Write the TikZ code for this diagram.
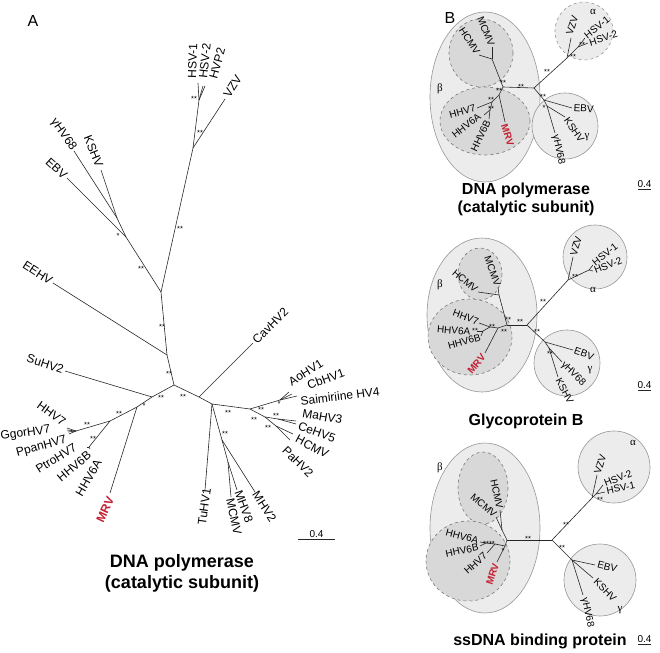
\documentclass[tikz,border=0pt]{standalone}
\usepackage{fontspec}
\setmainfont{Liberation Sans}
\newfontfamily\grk{Liberation Serif}
\usetikzlibrary{positioning,calc}
\definecolor{mrvred}{RGB}{196,32,50}
\definecolor{cladefill}{RGB}{236,236,236}
\definecolor{subfill}{RGB}{216,216,216}
\definecolor{cladeline}{RGB}{150,150,150}
\tikzset{
  br/.style={draw=black!85, line width=0.6pt},
  lab/.style={font=\fontsize{12}{12}\selectfont, inner sep=0.5pt},
  labB/.style={font=\fontsize{10}{10}\selectfont, inner sep=0.5pt},
  mrv/.style={text=mrvred, font=\fontsize{12}{12}\selectfont\bfseries, inner sep=0.5pt},
  mrvB/.style={text=mrvred, font=\fontsize{10}{10}\selectfont\bfseries, inner sep=0.5pt},
  sig/.style={font=\fontsize{7.5}{7.5}\selectfont, inner sep=0pt, yshift=-2pt},
  greek/.style={font=\grk\fontsize{11}{11}\selectfont, inner sep=0pt},
  clade/.style={fill=cladefill, draw=cladeline, line width=0.6pt},
  subclade/.style={fill=subfill, draw=cladeline!80!black, dashed, line width=0.6pt},
  ttl/.style={font=\fontsize{16}{18}\selectfont\bfseries, align=center},
  panel/.style={font=\fontsize{16}{16}\selectfont},
}
\begin{document}
\begin{tikzpicture}[x=1pt,y=-1pt]
\useasboundingbox (0,0) rectangle (660,652);

% ---------- panel A ----------
\node[panel] (pA) at (33,21) {A};
\coordinate (c0) at (174,385);
\coordinate (e1) at (167,355);
\coordinate (ag) at (161,292);
\coordinate (aN) at (193,148);
\coordinate (hsvN) at (199,100);
\coordinate (tHSV1) at (198,83);
\coordinate (tHSV2) at (203,86);
\coordinate (tHVP2) at (205,86);
\coordinate (tVZV) at (225,99);
\coordinate (gN2) at (126,237);
\coordinate (gN1) at (117,218);
\coordinate (tEBV) at (67,178);
\coordinate (tMHV68) at (74,151);
\coordinate (tKSHV) at (101,170);
\coordinate (tEEHV) at (53,283);
\coordinate (s1) at (152,397);
\coordinate (tSuHV2) at (65,371);
\coordinate (m1) at (137,407);
\coordinate (tMRV) at (110,493);
\coordinate (h1) at (110,421);
\coordinate (h6) at (89,447);
\coordinate (tHHV6B) at (87,447);
\coordinate (tHHV6A) at (90,449);
\coordinate (h7) at (76,431);
\coordinate (tHHV7) at (67,428);
\coordinate (tGgor) at (67,430);
\coordinate (tPpan) at (68,432);
\coordinate (tPtro) at (69,434);
\coordinate (cv) at (199,397);
\coordinate (tCav) at (253,343);
\coordinate (r1) at (212,404);
\coordinate (r2) at (250,409);
\coordinate (r3) at (280,400);
\coordinate (tAo) at (289,392);
\coordinate (tCb) at (292,394);
\coordinate (tSai) at (297,396);
\coordinate (r4) at (265,417);
\coordinate (r5) at (278,419);
\coordinate (tMa) at (296,421);
\coordinate (tCe) at (296,424);
\coordinate (r6) at (276,426);
\coordinate (tHCMV) at (293,434);
\coordinate (tPa) at (290,440);
\coordinate (tTu) at (205,490);
\coordinate (r7) at (222,440);
\coordinate (tMHV2) at (255,492);
\coordinate (r8) at (228,462);
\coordinate (tMCMV) at (231,497);
\coordinate (tMHV8) at (237,490);

\foreach \u/\v in {c0/e1,e1/ag,ag/aN,aN/hsvN,hsvN/tHSV1,hsvN/tHSV2,hsvN/tHVP2,aN/tVZV,
  ag/gN2,gN2/gN1,gN2/tEBV,gN1/tMHV68,gN1/tKSHV,e1/tEEHV,c0/s1,s1/tSuHV2,s1/m1,m1/tMRV,
  m1/h1,h1/h6,h6/tHHV6B,h6/tHHV6A,h1/h7,h7/tHHV7,h7/tGgor,h7/tPpan,h7/tPtro,
  c0/cv,cv/tCav,cv/r1,r1/r2,r2/r3,r3/tAo,r3/tCb,r3/tSai,r2/r4,r4/r5,r5/tMa,r5/tCe,
  r4/r6,r6/tHCMV,r6/tPa,r1/tTu,r1/r7,r7/tMHV2,r7/r8,r8/tMCMV,r8/tMHV8}
  \draw[br] (\u) -- (\v);

\node[lab,rotate=88,anchor=west] (lHSV1) at (192,79) {HSV-1};
\node[lab,rotate=84,anchor=west] (lHSV2) at (203,79) {HSV-2};
\node[lab,rotate=75,anchor=west] (lHVP2) at (213,79) {HVP2};
\node[lab,rotate=58,anchor=west] (lVZV) at (226,97) {VZV};
\node[lab,rotate=-55,anchor=east] (lMHV68) at (74,150) {γHV68};
\node[lab,rotate=-68,anchor=east] (lKSHV) at (100,167) {KSHV};
\node[lab,rotate=-42,anchor=east] (lEBV) at (66,177) {EBV};
\node[lab,rotate=-33,anchor=east] (lEEHV) at (52,282) {EEHV};
\node[lab,rotate=-18,anchor=east] (lSuHV2) at (64,370) {SuHV2};
\node[lab,rotate=-36,anchor=east] (lHHV7) at (65,423) {HHV7};
\node[lab,rotate=8,anchor=east] (lGgor) at (51,430) {GgorHV7};
\node[lab,rotate=15,anchor=east] (lPpan) at (67,440) {PpanHV7};
\node[lab,rotate=32,anchor=east] (lPtro) at (76,446) {PtroHV7};
\node[lab,rotate=40,anchor=east] (lHHV6B) at (90,453) {HHV6B};
\node[lab,rotate=60,anchor=east] (lHHV6A) at (99,460) {HHV6A};
\node[mrv,rotate=65,anchor=east] (lMRV) at (111,497) {MRV};
\node[lab,rotate=82,anchor=east] (lTu) at (207,488) {TuHV1};
\node[lab,rotate=-78,anchor=west] (lMCMV) at (230,498) {MCMV};
\node[lab,rotate=-70,anchor=west] (lMHV8) at (238,490) {MHV8};
\node[lab,rotate=-57,anchor=west] (lMHV2) at (255,492) {MHV2};
\node[lab,rotate=-45,anchor=west] (lPa) at (284,448) {PaHV2};
\node[lab,rotate=-28,anchor=west] (lHCMV) at (296,438) {HCMV};
\node[lab,rotate=-20,anchor=west] (lCe) at (298,425) {CeHV5};
\node[lab,rotate=-10,anchor=west] (lMa) at (302,413) {MaHV3};
\node[lab,rotate=7,anchor=west] (lSai) at (300,401) {Saimiriine HV4};
\node[lab,rotate=20,anchor=west] (lCb) at (307,386) {CbHV1};
\node[lab,rotate=32,anchor=west] (lAo) at (289,383) {AoHV1};
\node[lab,rotate=45,anchor=west] (lCav) at (254,342) {CavHV2};

\foreach \x/\y/\t [count=\i] in {194/97/**,200/131/**,180/227/**,118/234/*,141/267/**,
  162/325/**,169/372/**,161/396/**,144/404/*,119/412/**,87/423/**,93/437/**,
  183/395/**,228/411/**,261/408/**,279/402/*,254/418/**,276/414/**,268/426/**,225/432/**}
  \node[sig] (sa\i) at (\x,\y) {\t};

\node[ttl,font=\fontsize{18}{21}\selectfont\bfseries] (tA) at (182,573) {DNA polymerase\\(catalytic subunit)};
\coordinate (sbA1) at (298,539);
\coordinate (sbA2) at (335,539);
\draw[br] (sbA1) -- (sbA2);
\node[labB,above=1pt] (sbA) at ($(sbA1)!0.5!(sbA2)$) {0.4};

% ---------- panel B ----------
\node[panel] (pB) at (450,18) {B};

% clades, top
\path[clade] (485,97) ellipse [x radius=55, y radius=85];
\path[subclade] (481,53) ellipse [x radius=32, y radius=34];
\path[subclade] (485,121) ellipse [x radius=45, y radius=34];
\path[clade,dashed] (584,31) circle [radius=29];
\path[clade] (565,126) circle [radius=33];
% clades, middle
\path[clade] (482,315) ellipse [x radius=55, y radius=77];
\path[subclade] (480,274) ellipse [x radius=22, y radius=26];
\path[subclade] (470,337) ellipse [x radius=42, y radius=38];
\path[clade] (595,257) circle [radius=32];
\path[clade] (567,363) circle [radius=33];
% clades, bottom
\path[clade] (485,528) ellipse [x radius=55, y radius=85];
\path[subclade] (483,488) ellipse [x radius=25, y radius=36];
\path[subclade] (468,561) ellipse [x radius=42, y radius=40];
\path[clade] (614,467) circle [radius=36];
\path[clade] (600,580) circle [radius=36];

\foreach \x/\y/\t [count=\i] in {440/89/β,593/12/α,587/137/γ,
  440/285/β,593/290/α,590/370/γ,440/468/β,633/443/α,620/610/γ}
  \node[greek] (gr\i) at (\x,\y) {\t};

% tree, DNA polymerase
\coordinate (pT) at (534,88);
\coordinate (pB0) at (503,87);
\coordinate (pC) at (492,59);
\coordinate (pHCMV) at (479,55);
\coordinate (pMCMV) at (492,47);
\coordinate (pb1) at (499,95);
\coordinate (pH) at (492,102);
\coordinate (pHHV7) at (477,108);
\coordinate (pH6) at (490,110);
\coordinate (pHHV6A) at (484,115);
\coordinate (pHHV6B) at (489,119);
\coordinate (pMRV) at (505,122);
\coordinate (pA0) at (567,58);
\coordinate (pVZV) at (571,38);
\coordinate (pS) at (578,47);
\coordinate (pHSV1) at (585,38);
\coordinate (pHSV2) at (588,43);
\coordinate (pG) at (544,100);
\coordinate (pG2) at (547,106);
\coordinate (pEBV) at (572,108);
\coordinate (pKSHV) at (565,117);
\coordinate (pMHV68) at (555,133);
\foreach \u/\v in {pT/pB0,pB0/pC,pC/pHCMV,pC/pMCMV,pB0/pb1,pb1/pH,pH/pHHV7,pH/pH6,
  pH6/pHHV6A,pH6/pHHV6B,pb1/pMRV,pT/pA0,pA0/pVZV,pA0/pS,pS/pHSV1,pS/pHSV2,
  pT/pG,pG/pG2,pG/pEBV,pG2/pKSHV,pG2/pMHV68}
  \draw[br] (\u) -- (\v);
\node[labB,rotate=-57,anchor=east] (plHCMV) at (478,54) {HCMV};
\node[labB,rotate=-68,anchor=east] (plMCMV) at (492,46) {MCMV};
\node[labB,rotate=15,anchor=east] (plHHV7) at (476,108) {HHV7};
\node[labB,rotate=38,anchor=east] (plHHV6A) at (480,115) {HHV6A};
\node[labB,rotate=65,anchor=east] (plHHV6B) at (488,120) {HHV6B};
\node[mrvB,rotate=-72,anchor=west] (plMRV) at (504,124) {MRV};
\node[labB,rotate=72,anchor=west] (plVZV) at (569,35) {VZV};
\node[labB,rotate=38,anchor=west] (plHSV1) at (585,37) {HSV-1};
\node[labB,rotate=18,anchor=west] (plHSV2) at (589,43) {HSV-2};
\node[labB,rotate=-3,anchor=west] (plEBV) at (573,108) {EBV};
\node[labB,rotate=-55,anchor=west] (plKSHV) at (566,118) {KSHV};
\node[labB,rotate=-78,anchor=west] (plMHV68) at (555,134) {γHV68};
\foreach \x/\y/\t [count=\i] in {521/85/**,503/81/**,499/89/**,491/98/**,491/107/**,
  547/70/**,573/55/**,582/43/**,543/95/**,544/106/*}
  \node[sig] (sp\i) at (\x,\y) {\t};
\node[ttl] (tP) at (526,199) {DNA polymerase\\(catalytic subunit)};
\coordinate (sbP1) at (638,189);
\coordinate (sbP2) at (651,189);
\draw[br] (sbP1) -- (sbP2);
\node[labB,above=1pt] (sbP) at ($(sbP1)!0.5!(sbP2)$) {0.4};

% tree, glycoprotein B
\coordinate (gT) at (527,325);
\coordinate (gB0) at (507,325);
\coordinate (gC) at (499,295);
\coordinate (gHCMV) at (478,292);
\coordinate (gMCMV) at (498,287);
\coordinate (gb1) at (498,328);
\coordinate (gH) at (490,327);
\coordinate (gHHV7) at (479,323);
\coordinate (gH6) at (483,331);
\coordinate (gHHV6A) at (477,331);
\coordinate (gHHV6B) at (481,336);
\coordinate (gMRV) at (485,353);
\coordinate (gA0) at (568,280);
\coordinate (gVZV) at (573,257);
\coordinate (gS) at (589,270);
\coordinate (gHSV1) at (593,265);
\coordinate (gHSV2) at (593,271);
\coordinate (gG) at (545,342);
\coordinate (gG2) at (549,348);
\coordinate (gEBV) at (573,350);
\coordinate (gKSHV) at (558,377);
\coordinate (gMHV68) at (562,362);
\foreach \u/\v in {gT/gB0,gB0/gC,gC/gHCMV,gC/gMCMV,gB0/gb1,gb1/gH,gH/gHHV7,gH/gH6,
  gH6/gHHV6A,gH6/gHHV6B,gb1/gMRV,gT/gA0,gA0/gVZV,gA0/gS,gS/gHSV1,gS/gHSV2,
  gT/gG,gG/gG2,gG/gEBV,gG2/gKSHV,gG2/gMHV68}
  \draw[br] (\u) -- (\v);
\node[labB,rotate=-40,anchor=east] (glHCMV) at (477,291) {HCMV};
\node[labB,rotate=-70,anchor=east] (glMCMV) at (498,286) {MCMV};
\node[labB,rotate=-20,anchor=east] (glHHV7) at (479,322) {HHV7};
\node[labB,rotate=-5,anchor=east] (glHHV6A) at (471,332) {HHV6A};
\node[labB,rotate=15,anchor=east] (glHHV6B) at (481,337) {HHV6B};
\node[mrvB,rotate=50,anchor=east] (glMRV) at (484,355) {MRV};
\node[labB,rotate=73,anchor=west] (glVZV) at (573,256) {VZV};
\node[labB,rotate=38,anchor=west] (glHSV1) at (593,264) {HSV-1};
\node[labB,rotate=22,anchor=west] (glHSV2) at (594,271) {HSV-2};
\node[labB,rotate=-20,anchor=west] (glEBV) at (574,350) {EBV};
\node[labB,rotate=-62,anchor=west] (glKSHV) at (558,378) {KSHV};
\node[labB,rotate=-45,anchor=west] (glMHV68) at (562,363) {γHV68};
\foreach \x/\y/\t [count=\i] in {520/320/**,508/318/**,492/325/**,475/329/**,504/330/**,
  543/300/**,575/275/**,537/330/**,550/352/**}
  \node[sig] (sg\i) at (\x,\y) {\t};
\node[ttl] (tG) at (526,421) {Glycoprotein B};
\coordinate (sbG1) at (638,390);
\coordinate (sbG2) at (651,390);
\draw[br] (sbG1) -- (sbG2);
\node[labB,above=1pt] (sbG) at ($(sbG1)!0.5!(sbG2)$) {0.4};

% tree, ssDNA binding protein
\coordinate (sT) at (552,540);
\coordinate (sB0) at (507,540);
\coordinate (sC) at (502,530);
\coordinate (sHCMV) at (500,510);
\coordinate (sMCMV) at (496,517);
\coordinate (sb1) at (505,546);
\coordinate (sH) at (495,544);
\coordinate (sH6) at (486,543);
\coordinate (sHHV6A) at (480,542);
\coordinate (sHHV6B) at (480,546);
\coordinate (sHHV7) at (487,553);
\coordinate (sMRV) at (497,562);
\coordinate (sA0) at (592,498);
\coordinate (sVZV) at (597,475);
\coordinate (sS) at (596,494);
\coordinate (sHSV2) at (603,485);
\coordinate (sHSV1) at (605,492);
\coordinate (sG) at (572,560);
\coordinate (sEBV) at (595,565);
\coordinate (sKSHV) at (593,578);
\coordinate (sMHV68) at (583,595);
\foreach \u/\v in {sT/sB0,sB0/sC,sC/sHCMV,sC/sMCMV,sB0/sb1,sb1/sH,sH/sH6,sH6/sHHV6A,
  sH6/sHHV6B,sH/sHHV7,sb1/sMRV,sT/sA0,sA0/sVZV,sA0/sS,sS/sHSV2,sS/sHSV1,
  sT/sG,sG/sEBV,sG/sKSHV,sG/sMHV68}
  \draw[br] (\u) -- (\v);
\node[labB,rotate=-78,anchor=east] (slHCMV) at (500,509) {HCMV};
\node[labB,rotate=-40,anchor=east] (slMCMV) at (496,516) {MCMV};
\node[labB,rotate=-15,anchor=east] (slHHV6A) at (479,541) {HHV6A};
\node[labB,rotate=12,anchor=east] (slHHV6B) at (479,547) {HHV6B};
\node[labB,rotate=42,anchor=east] (slHHV7) at (486,554) {HHV7};
\node[mrvB,rotate=72,anchor=east] (slMRV) at (496,563) {MRV};
\node[labB,rotate=72,anchor=west] (slVZV) at (597,474) {VZV};
\node[labB,rotate=22,anchor=west] (slHSV2) at (604,484) {HSV-2};
\node[labB,rotate=12,anchor=west] (slHSV1) at (606,491) {HSV-1};
\node[labB,rotate=-15,anchor=west] (slEBV) at (597,564) {EBV};
\node[labB,rotate=-45,anchor=west] (slKSHV) at (595,580) {KSHV};
\node[labB,rotate=-78,anchor=west] (slMHV68) at (584,597) {γHV68};
\foreach \x/\y/\t [count=\i] in {528/537/**,566/523/**,600/498/**,562/546/**,
  489/542/****,503/549/*}
  \node[sig] (ss\i) at (\x,\y) {\t};
\node[ttl] (tS) at (540,641) {ssDNA binding protein};
\coordinate (sbS1) at (638,644);
\coordinate (sbS2) at (651,644);
\draw[br] (sbS1) -- (sbS2);
\node[labB,above=1pt] (sbS) at ($(sbS1)!0.5!(sbS2)$) {0.4};
\end{tikzpicture}
\end{document}
